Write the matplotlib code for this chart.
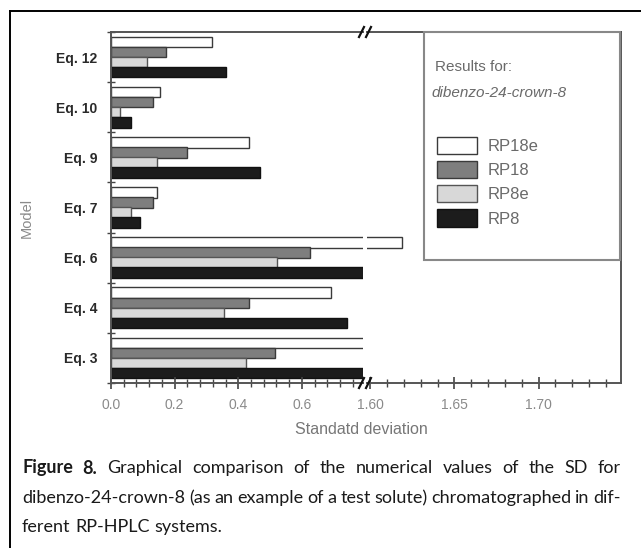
import matplotlib
matplotlib.use('Agg')
import matplotlib.pyplot as plt
from matplotlib.lines import Line2D
from matplotlib.patches import Rectangle
from matplotlib.ticker import MultipleLocator, FormatStrFormatter

plt.rcParams['font.family'] = ['Liberation Sans', 'DejaVu Sans']

# models, top to bottom
models = ['Eq. 12', 'Eq. 10', 'Eq. 9', 'Eq. 7', 'Eq. 6', 'Eq. 4', 'Eq. 3']

# standard deviation per column type (values past 0.8 fall into the axis break)
rp18e = [0.317, 0.155, 0.435, 0.146, 1.619, 0.691, 1.20]
rp18 = [0.174, 0.132, 0.239, 0.132, 0.626, 0.435, 0.516]
rp8e = [0.113, 0.027, 0.144, 0.063, 0.523, 0.356, 0.425]
rp8 = [0.362, 0.063, 0.467, 0.092, 1.10, 0.741, 1.10]

series_names = ['RP18e', 'RP18', 'RP8e', 'RP8']
left_ticks = [0.0, 0.2, 0.4, 0.6]
right_ticks = [1.60, 1.65, 1.70]

caption = [
    'Figure 8. Graphical comparison of the numerical values of the SD for',
    'dibenzo-24-crown-8 (as an example of a test solute) chromatographed in dif-',
    'ferent RP-HPLC systems.',
]

W, H = 641, 548
fig = plt.figure(figsize=(W / 100, H / 100), dpi=100)


def fx(px):
    return px / W


def fy(py):
    return 1 - py / H


top, bottom = 32, 383
ax1 = fig.add_axes([fx(111), fy(bottom), fx(363 - 111), (bottom - top) / H])
ax2 = fig.add_axes([fx(367), fy(bottom), fx(621 - 367), (bottom - top) / H])

styles = [
    dict(color='white', edgecolor='#3a3a3a'),
    dict(color='#7e7e7e', edgecolor='#3a3a3a'),
    dict(color='#d8d8d8', edgecolor='#555555'),
    dict(color='#1c1c1c', edgecolor='#111111'),
]
offsets = [0.3, 0.1, -0.1, -0.3]
ypos = [len(models) - 1 - i for i in range(len(models))]

handles = []
for ax in (ax1, ax2):
    for vals, off, st in zip([rp18e, rp18, rp8e, rp8], offsets, styles):
        bars = ax.barh([y + off for y in ypos], vals, height=0.21,
                       linewidth=1.0, **st)
        if ax is ax1:
            handles.append(bars)
    ax.set_ylim(-0.5, len(models) - 0.5)
    for s in ax.spines.values():
        s.set_color('#555555')
        s.set_linewidth(1.4)
    ax.tick_params(axis='x', which='major', direction='inout', length=9,
                   width=1.2, color='#444444', labelsize=10,
                   labelcolor='#8a8a8a', pad=6)
    ax.tick_params(axis='x', which='minor', direction='inout', length=6,
                   width=1.0, color='#444444')

ax1.set_xlim(0, 0.792)
ax1.set_xticks(left_ticks)
ax1.xaxis.set_major_formatter(FormatStrFormatter('%.1f'))
ax1.xaxis.set_minor_locator(MultipleLocator(0.04))
ax1.spines['right'].set_visible(False)

ax1.set_yticks([b - 0.5 for b in range(len(models) + 1)])
ax1.set_yticklabels([])
ax1.set_yticks(ypos, models, minor=True)
ax1.tick_params(axis='y', which='major', direction='inout', length=6,
                width=1.0, color='#444444')
ax1.tick_params(axis='y', which='minor', length=0, pad=10, labelsize=10,
                labelcolor='#2a2a2a')
for lab in ax1.get_yticklabels(minor=True):
    lab.set_fontweight('bold')

ax2.set_xlim(1.598, 1.749)
ax2.set_xticks(right_ticks)
ax2.xaxis.set_major_formatter(FormatStrFormatter('%.2f'))
ax2.xaxis.set_minor_locator(MultipleLocator(0.01))
ax2.spines['left'].set_visible(False)
ax2.set_yticks([])

# break marks on top and bottom spines
for yb in (top, bottom):
    for xb in (359, 366):
        fig.add_artist(Line2D([fx(xb), fx(xb + 5)], [fy(yb + 5), fy(yb - 5)],
                              color='#111111', lw=1.6))

fig.text(fx(361), fy(430), 'Standatd deviation', ha='center', va='center',
         fontsize=11.5, color='#777777')
fig.text(fx(27), fy(218), 'Model', rotation=90, ha='center', va='center',
         fontsize=10.5, color='#8a8a8a')

# legend box
fig.add_artist(Rectangle((fx(424), fy(260)), fx(620 - 424), (260 - 32) / H,
                         transform=fig.transFigure, fill=False,
                         edgecolor='#888888', lw=1.5))
fig.text(fx(435), fy(67), 'Results for:', va='center', fontsize=11,
         color='#6a6a6a')
fig.text(fx(431), fy(93), 'dibenzo-24-crown-8', va='center', fontsize=11,
         color='#6a6a6a', style='italic')
fig.legend(handles, series_names, loc='upper left',
           bbox_to_anchor=(fx(437), fy(137)), frameon=False, fontsize=12,
           labelcolor='#6a6a6a', handlelength=2.4, handleheight=1.2,
           handletextpad=0.66, labelspacing=0.42, borderpad=0,
           borderaxespad=0)

# outer frame
fig.add_artist(Line2D([fx(10), fx(10)], [0, fy(11)], color='black', lw=1.4))
fig.add_artist(Line2D([fx(10), 1], [fy(11), fy(11)], color='black', lw=1.4))

# justified caption, shrunk until the longest line fits
cap_font = ['DejaVu Sans Condensed', 'Liberation Sans Narrow', 'Lato',
            'DejaVu Sans']
renderer = fig.canvas.get_renderer()
x0, x1 = 22, 621


def word_widths(words, size, first_bold):
    out = []
    for wi, w in enumerate(words):
        t = fig.text(0, 0, w, fontsize=size, family=cap_font,
                     fontweight='bold' if (first_bold and wi < 2) else 'normal')
        out.append(t.get_window_extent(renderer).width)
        t.remove()
    return out


cap_size = 14.5
while cap_size > 9:
    ok = True
    for li, line in enumerate(caption[:-1]):
        words = line.split(' ')
        ws = word_widths(words, cap_size, li == 0)
        if sum(ws) + 0.2 * cap_size * 100 / 72 * (len(words) - 1) > x1 - x0:
            ok = False
    if ok:
        break
    cap_size -= 0.25

for li, (line, yc) in enumerate(zip(caption, [468, 498, 527])):
    words = line.split(' ')
    widths = word_widths(words, cap_size, li == 0)
    if li < len(caption) - 1:
        gap = (x1 - x0 - sum(widths)) / (len(words) - 1)
    else:
        gap = 0.26 * cap_size * 100 / 72
    x = x0
    for wi, (w, wd) in enumerate(zip(words, widths)):
        bold = li == 0 and wi < 2
        fig.text(fx(x), fy(yc), w, va='center', fontsize=cap_size,
                 family=cap_font, fontweight='bold' if bold else 'normal',
                 color='#1a1a1a')
        x += wd + gap

fig.savefig('out.png', dpi=100)
